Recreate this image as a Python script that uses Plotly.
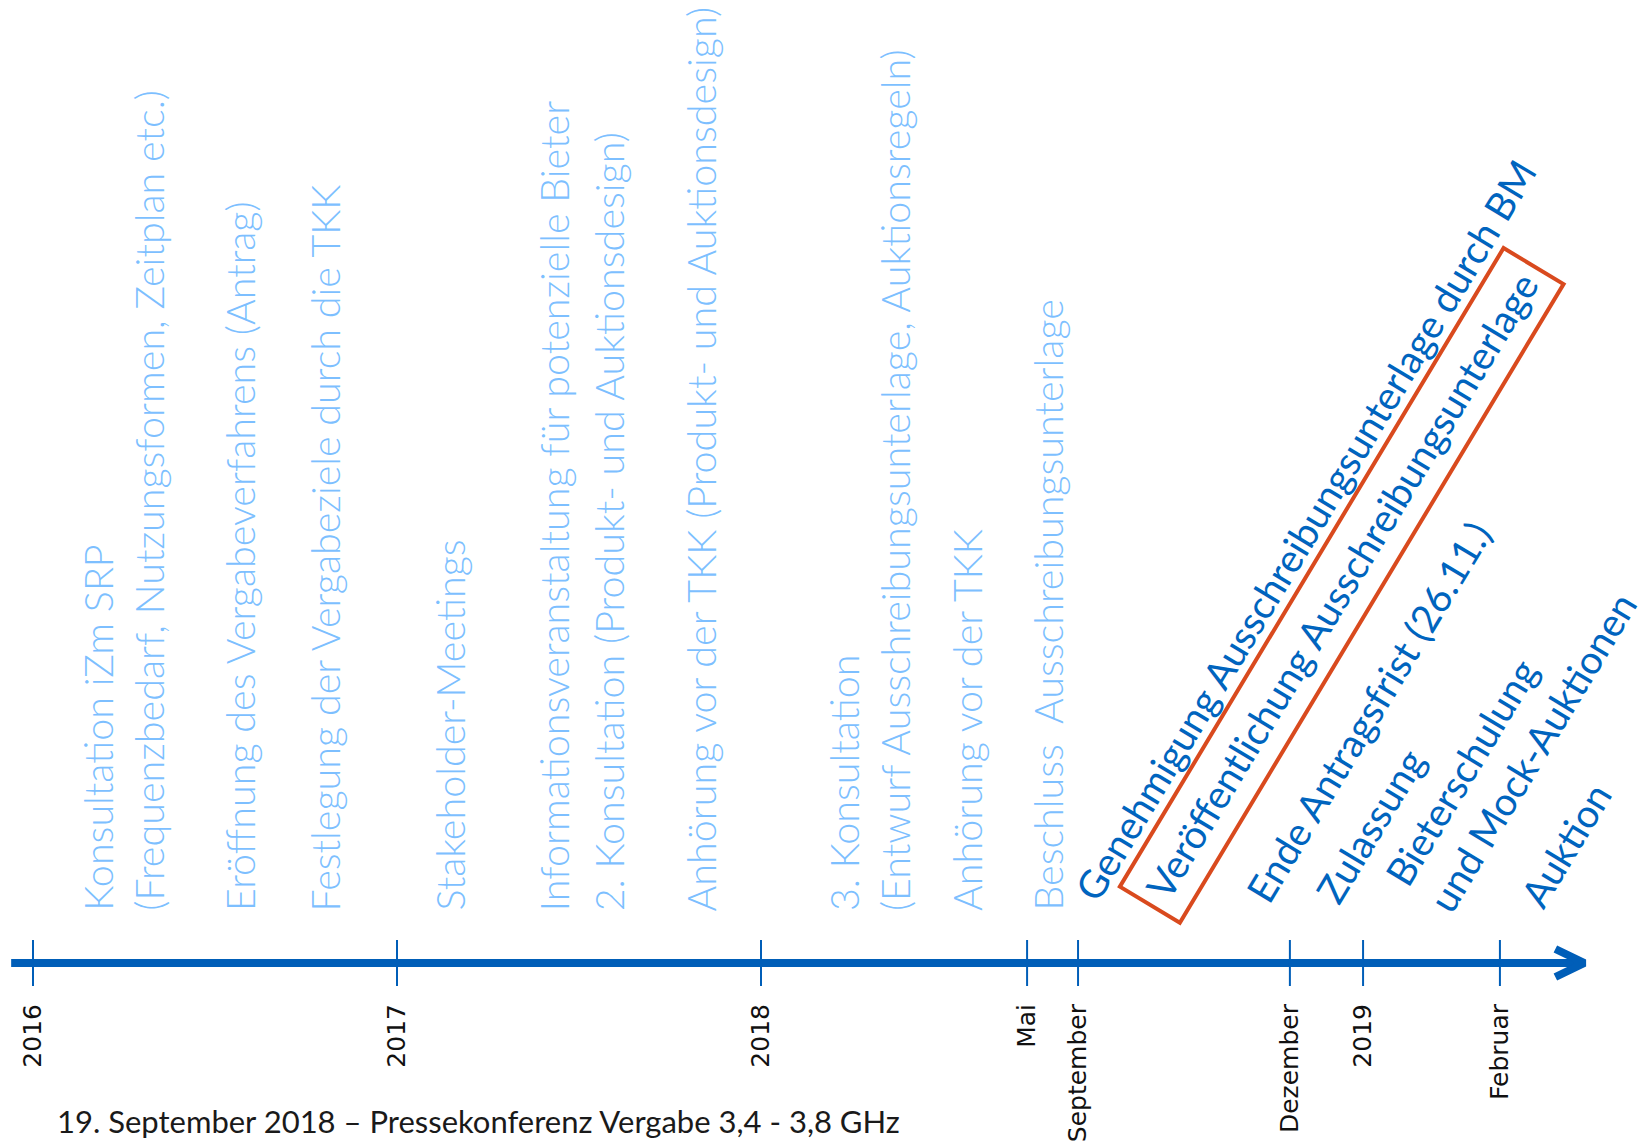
import plotly.graph_objects as go

# ---------------- data ----------------
tick_labels = ["2016", "2017", "2018", "Mai", "September", "Dezember", "2019", "Februar"]
tick_pos = [0, 1, 2, 2.731, 2.871, 3.453, 3.654, 4.030]

past_events = [
    "Konsultation iZm SRP<br>(Frequenzbedarf, Nutzungsformen, Zeitplan etc.)",
    "Eröffnung des Vergabeverfahrens (Antrag)",
    "Festlegung der Vergabeziele durch die TKK",
    "Stakeholder-Meetings",
    "Informationsveranstaltung für potenzielle Bieter",
    "2. Konsultation (Produkt- und Auktionsdesign)",
    "Anhörung vor der TKK (Produkt- und Auktionsdesign)",
    "3. Konsultation<br>(Entwurf Ausschreibungsunterlage, Auktionsregeln)",
    "Anhörung vor der TKK",
    "Beschluss  Ausschreibungsunterlage",
]
past_pos = [0.245, 0.566, 0.802, 1.143, 1.429, 1.582, 1.835, 2.297, 2.563, 2.786]

future_events = [
    "Genehmigung Ausschreibungsunterlage durch BM",
    "Veröffentlichung Ausschreibungsunterlage",
    "Ende Antragsfrist (26.11.)",
    "Zulassung",
    "Bieterschulung<br>und Mock-Auktionen",
    "Auktion",
]
future_pos = [3.495, 3.596, 3.668, 3.673, 4.058, 4.210]
highlighted = "Veröffentlichung Ausschreibungsunterlage"

footer = "19. September 2018 – Pressekonferenz Vergabe 3,4 - 3,8 GHz"

axis_start, axis_end = -0.06, 4.262

# ---------------- styles / layout ----------------
W, H = 1645, 1143
PX_PER_UNIT = 364.0
X0 = -33 / PX_PER_UNIT
X1 = X0 + W / PX_PER_UNIT
PLOT_H = 990
Y_LO = -27

AXIS_BLUE = "#005EB8"
LIGHT_BLUE = "#7DBFFF"
DARK_BLUE = "#0064BE"
RED = "#D94A1E"

past_lift = 50                                  # px above the timeline
future_lift = [433, 378, 251, 137, 224, 118]    # px above the timeline (label centres)
FUTURE_ANGLE = -59

fig = go.Figure()

# timeline
fig.add_trace(go.Scatter(x=[axis_start, axis_end], y=[0, 0], mode="lines",
                         line=dict(color=AXIS_BLUE, width=8), hoverinfo="skip"))
# arrow head (open chevron)
dx = 29 / PX_PER_UNIT
fig.add_trace(go.Scatter(x=[axis_end - dx, axis_end, axis_end - dx],
                         y=[14, 0, -14], mode="lines",
                         line=dict(color=AXIS_BLUE, width=8), hoverinfo="skip"))
# tick marks
tx, ty = [], []
for p in tick_pos:
    tx += [p, p, None]
    ty += [23, -23, None]
fig.add_trace(go.Scatter(x=tx, y=ty, mode="lines",
                         line=dict(color=AXIS_BLUE, width=2), hoverinfo="skip"))

annotations = []
for txt, p in zip(past_events, past_pos):
    annotations.append(dict(
        x=p, y=past_lift, xref="x", yref="y", text=txt, showarrow=False,
        textangle=-90, xanchor="center", yanchor="bottom", align="left",
        font=dict(family="Lato", size=39.5, color=LIGHT_BLUE, weight=300)))

for txt, p, lift in zip(future_events, future_pos, future_lift):
    a = dict(
        x=p, y=lift, xref="x", yref="y", text=txt, showarrow=False,
        textangle=FUTURE_ANGLE, xanchor="center", yanchor="middle", align="left",
        font=dict(family="Lato", size=39, color=DARK_BLUE))
    if txt == highlighted:
        a.update(bordercolor=RED, borderwidth=4, borderpad=10)
    annotations.append(a)

annotations.append(dict(
    x=55 / W, y=-(H - PLOT_H - 1) / PLOT_H, xref="paper", yref="paper",
    text=footer, showarrow=False, xanchor="left", yanchor="bottom",
    font=dict(family="Lato", size=31, color="#1a1a1a")))

fig.update_layout(
    width=W, height=H,
    margin=dict(l=0, r=0, t=0, b=H - PLOT_H, pad=0),
    paper_bgcolor="white", plot_bgcolor="white",
    showlegend=False,
    annotations=annotations,
    xaxis=dict(range=[X0, X1], tickvals=tick_pos, ticktext=tick_labels,
               tickangle=-90, ticks="outside", ticklen=3, tickcolor="rgba(0,0,0,0)",
               tickfont=dict(family="DejaVu Sans", size=25, color="#111111"),
               showgrid=False, zeroline=False, showline=False, fixedrange=True),
    yaxis=dict(range=[Y_LO, Y_LO + PLOT_H], visible=False, fixedrange=True),
)

fig.write_html("out.html", config={"displayModeBar": False},
               post_script="document.body.style.margin='0';")
